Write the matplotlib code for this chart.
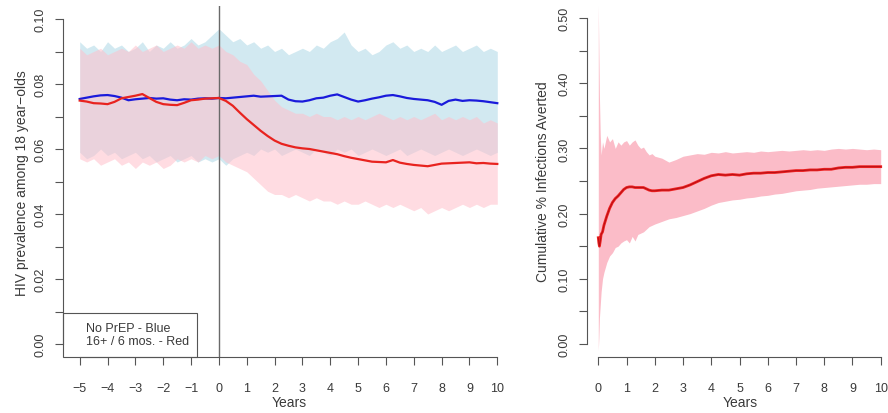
import numpy as np
import matplotlib
matplotlib.use("Agg")
import matplotlib.pyplot as plt
from matplotlib.patches import Rectangle

plt.rcParams['font.family'] = ['Liberation Sans', 'DejaVu Sans']

# ---------------- Left panel data ----------------
years_left = np.arange(-5, 10.0001, 0.25)

blue_upper = [0.093, 0.091, 0.092, 0.090, 0.093, 0.091, 0.092, 0.090, 0.091, 0.093, 0.090,
              0.092, 0.091, 0.093, 0.091, 0.092, 0.094, 0.092, 0.093, 0.095, 0.097,
              0.095, 0.093, 0.094, 0.092, 0.093, 0.091, 0.092, 0.090, 0.091, 0.089,
              0.090, 0.091, 0.090, 0.092, 0.091, 0.093, 0.094, 0.096, 0.092, 0.090,
              0.091, 0.089, 0.090, 0.092, 0.093, 0.091, 0.092, 0.090, 0.091, 0.090,
              0.092, 0.090, 0.091, 0.092, 0.090, 0.091, 0.092, 0.090, 0.091, 0.090]
blue_lower = [0.059, 0.057, 0.058, 0.060, 0.058, 0.059, 0.057, 0.058, 0.059, 0.057, 0.058,
              0.056, 0.057, 0.058, 0.056, 0.057, 0.058, 0.056, 0.057, 0.056, 0.057,
              0.055, 0.057, 0.058, 0.059, 0.058, 0.060, 0.059, 0.060, 0.058, 0.059,
              0.060, 0.059, 0.058, 0.060, 0.059, 0.058, 0.060, 0.059, 0.060, 0.058,
              0.059, 0.060, 0.059, 0.058, 0.059, 0.060, 0.058, 0.059, 0.060, 0.059,
              0.058, 0.059, 0.060, 0.059, 0.058, 0.059, 0.060, 0.059, 0.058, 0.059]
pink_upper = [0.091, 0.089, 0.090, 0.091, 0.089, 0.090, 0.091, 0.090, 0.092, 0.090, 0.091,
              0.092, 0.090, 0.091, 0.092, 0.091, 0.093, 0.091, 0.092, 0.091, 0.092,
              0.090, 0.089, 0.087, 0.086, 0.083, 0.081, 0.078, 0.075, 0.073, 0.072,
              0.071, 0.071, 0.070, 0.071, 0.070, 0.070, 0.069, 0.070, 0.069, 0.070,
              0.069, 0.070, 0.071, 0.070, 0.069, 0.070, 0.069, 0.070, 0.069, 0.070,
              0.071, 0.069, 0.070, 0.069, 0.070, 0.069, 0.070, 0.068, 0.069, 0.068]
pink_lower = [0.057, 0.056, 0.057, 0.055, 0.056, 0.057, 0.055, 0.056, 0.054, 0.056, 0.055,
              0.056, 0.054, 0.055, 0.057, 0.056, 0.057, 0.056, 0.058, 0.057, 0.058,
              0.056, 0.055, 0.054, 0.053, 0.051, 0.049, 0.047, 0.046, 0.046, 0.045,
              0.046, 0.045, 0.044, 0.045, 0.044, 0.044, 0.043, 0.044, 0.043, 0.043,
              0.044, 0.043, 0.042, 0.043, 0.042, 0.043, 0.042, 0.041, 0.042, 0.040,
              0.041, 0.042, 0.041, 0.042, 0.043, 0.042, 0.043, 0.042, 0.043, 0.043]
blue_mean = [0.0754, 0.0758, 0.0762, 0.0765, 0.0766, 0.0763, 0.0758, 0.0750, 0.0753, 0.0755, 0.0757,
             0.0755, 0.0756, 0.0752, 0.0750, 0.0753, 0.0752, 0.0755, 0.0756, 0.0755, 0.0757,
             0.0756, 0.0758, 0.0760, 0.0762, 0.0764, 0.0761, 0.0762, 0.0763, 0.0764, 0.0752,
             0.0747, 0.0746, 0.0750, 0.0756, 0.0758, 0.0764, 0.0768, 0.0760, 0.0752, 0.0746,
             0.0750, 0.0755, 0.0759, 0.0764, 0.0766, 0.0762, 0.0757, 0.0754, 0.0752, 0.0750,
             0.0745, 0.0736, 0.0748, 0.0752, 0.0748, 0.0750, 0.0749, 0.0747, 0.0744, 0.0741]
red_mean = [0.0749, 0.0746, 0.0741, 0.0740, 0.0738, 0.0745, 0.0756, 0.0760, 0.0764, 0.0769, 0.0757,
            0.0745, 0.0738, 0.0736, 0.0735, 0.0742, 0.0750, 0.0752, 0.0755, 0.0756, 0.0757,
            0.0748, 0.0733, 0.0712, 0.0692, 0.0674, 0.0656, 0.0640, 0.0626, 0.0616, 0.0610,
            0.0605, 0.0602, 0.0600, 0.0596, 0.0592, 0.0588, 0.0584, 0.0578, 0.0573, 0.0569,
            0.0565, 0.0561, 0.0560, 0.0559, 0.0566, 0.0558, 0.0554, 0.0551, 0.0549, 0.0547,
            0.0551, 0.0555, 0.0556, 0.0557, 0.0558, 0.0559, 0.0556, 0.0557, 0.0555, 0.0554]

left_xticks = list(range(-5, 11))
left_yticks = [0.00, 0.01, 0.02, 0.03, 0.04, 0.05, 0.06, 0.07, 0.08, 0.09, 0.10]
left_ylabels = ["0.00", "", "0.02", "", "0.04", "", "0.06", "", "0.08", "", "0.10"]
legend_lines = ["No PrEP - Blue", "16+ / 6 mos. - Red"]

# ---------------- Right panel data ----------------
years_right = [0, 0.02, 0.04, 0.07, 0.1, 0.15, 0.2, 0.3, 0.4, 0.5, 0.6, 0.7, 0.8, 0.9, 1.0,
               1.1, 1.2, 1.3, 1.4, 1.5, 1.6, 1.7, 1.8, 1.9, 2.0, 2.25, 2.5, 2.75, 3.0, 3.25,
               3.5, 3.75, 4.0, 4.25, 4.5, 4.75, 5.0, 5.25, 5.5, 5.75, 6.0, 6.25, 6.5, 6.75,
               7.0, 7.25, 7.5, 7.75, 8.0, 8.25, 8.5, 8.75, 9.0, 9.25, 9.5, 9.75, 10.0]
avert_upper = [0.52, 0.45, 0.38, 0.32, 0.29, 0.31, 0.30, 0.32, 0.31, 0.315, 0.30, 0.31, 0.305,
               0.31, 0.312, 0.305, 0.31, 0.313, 0.305, 0.30, 0.302, 0.295, 0.29, 0.292, 0.288,
               0.285, 0.279, 0.283, 0.288, 0.290, 0.292, 0.291, 0.294, 0.293, 0.295, 0.293,
               0.294, 0.295, 0.294, 0.296, 0.295, 0.296, 0.297, 0.296, 0.297, 0.298, 0.297,
               0.298, 0.297, 0.299, 0.300, 0.299, 0.300, 0.299, 0.298, 0.299, 0.298]
avert_lower = [-0.01, 0.01, 0.04, 0.06, 0.08, 0.10, 0.11, 0.125, 0.135, 0.14, 0.148, 0.15,
               0.155, 0.158, 0.160, 0.155, 0.165, 0.158, 0.168, 0.170, 0.172, 0.176, 0.180,
               0.182, 0.184, 0.188, 0.192, 0.194, 0.197, 0.200, 0.204, 0.208, 0.213, 0.217,
               0.219, 0.221, 0.222, 0.224, 0.225, 0.227, 0.228, 0.230, 0.231, 0.233, 0.235,
               0.236, 0.237, 0.239, 0.240, 0.241, 0.242, 0.243, 0.244, 0.245, 0.245, 0.246, 0.246]
avert_mean = [0.163, 0.155, 0.150, 0.158, 0.168, 0.172, 0.182, 0.196, 0.208, 0.217, 0.223,
              0.227, 0.232, 0.237, 0.240, 0.241, 0.241, 0.240, 0.240, 0.240, 0.240, 0.238,
              0.236, 0.235, 0.235, 0.236, 0.236, 0.238, 0.240, 0.244, 0.249, 0.254, 0.258,
              0.260, 0.259, 0.260, 0.259, 0.261, 0.262, 0.262, 0.263, 0.263, 0.264, 0.265,
              0.266, 0.266, 0.267, 0.267, 0.268, 0.268, 0.270, 0.271, 0.271, 0.272, 0.272,
              0.272, 0.272]

right_xticks = list(range(0, 11))
right_yticks = [0.00, 0.05, 0.10, 0.15, 0.20, 0.25, 0.30, 0.35, 0.40, 0.45, 0.50]
right_ylabels = ["0.00", "", "0.10", "", "0.20", "", "0.30", "", "0.40", "", "0.50"]

# ---------------- Figure ----------------
W, H = 888, 414
fig = plt.figure(figsize=(W / 100, H / 100), dpi=100)
TXT = "#3a3a3a"
AX = "#555555"
FS = 9.5

def style(ax, xb, yb, xticks, yticks, ylabels):
    for s in ["top", "right"]:
        ax.spines[s].set_visible(False)
    ax.spines["left"].set_bounds(*yb)
    ax.spines["bottom"].set_bounds(*xb)
    for s in ["left", "bottom"]:
        ax.spines[s].set_color(AX)
        ax.spines[s].set_linewidth(0.8)
    ax.set_xticks(xticks)
    ax.set_yticks(yticks)
    ax.set_yticklabels(ylabels, rotation=90, va="center")
    ax.tick_params(axis="both", direction="out", length=6, width=0.8, color=AX,
                   labelcolor=TXT, labelsize=FS - 0.5)
    ax.tick_params(axis="x", pad=12)
    ax.tick_params(axis="y", pad=6)

# Left
axL = fig.add_axes([63 / W, (H - 358) / H, (514 - 63) / W, (358 - 7) / H])
axL.set_xlim(-5.6, 10.6)
axL.set_ylim(-0.004, 0.104)
axL.fill_between(years_left, blue_lower, blue_upper, color="#add8e6", alpha=0.55, lw=0)
axL.fill_between(years_left, pink_lower, pink_upper, color="#ffc0cb", alpha=0.55, lw=0)
axL.axvline(0, color="#6a6a6a", lw=1.0)
axL.plot(years_left, blue_mean, color="#1a1adb", lw=1.6)
axL.plot(years_left, red_mean, color="#e8231f", lw=1.6)
style(axL, (-5, 10), (0, 0.10), left_xticks, left_yticks, left_ylabels)
axL.add_patch(Rectangle((-5.6, -0.004), 5.6 - 0.79, 0.0135, fill=False,
                        edgecolor="#555555", lw=0.8, clip_on=False, zorder=5))
axL.text(-4.78, 0.0049, legend_lines[0], color=TXT, fontsize=FS - 0.5, va="center", ha="left")
axL.text(-4.78, 0.0009, legend_lines[1], color=TXT, fontsize=FS - 0.5, va="center", ha="left")

fig.text(22 / W, 1 - 183 / H, "HIV prevalence among 18 year\u2212olds", rotation=90,
         ha="center", va="center", color=TXT, fontsize=FS + 0.5)
fig.text(289 / W, 1 - 403 / H, "Years", ha="center", va="center", color=TXT, fontsize=FS + 0.5)

# Right
axR = fig.add_axes([587 / W, (H - 358) / H, (892 - 587) / W, (358 - 6) / H])
axR.set_xlim(-0.4, 10.4)
axR.set_ylim(-0.02, 0.52)
axR.fill_between(years_right, avert_lower, avert_upper, color="#fbbcc8", lw=0)
axR.plot(years_right, avert_mean, color="#ee2222", lw=2.0)
axR.plot(years_right, avert_mean, color="#b80f14", lw=0.7)
style(axR, (0, 10), (0, 0.50), right_xticks, right_yticks, right_ylabels)

fig.text(543 / W, 1 - 182 / H, "Cumulative % Infections Averted", rotation=90,
         ha="center", va="center", color=TXT, fontsize=FS + 0.5)
fig.text(740 / W, 1 - 403 / H, "Years", ha="center", va="center", color=TXT, fontsize=FS + 0.5)

fig.savefig("out.png", dpi=100, facecolor="white")
